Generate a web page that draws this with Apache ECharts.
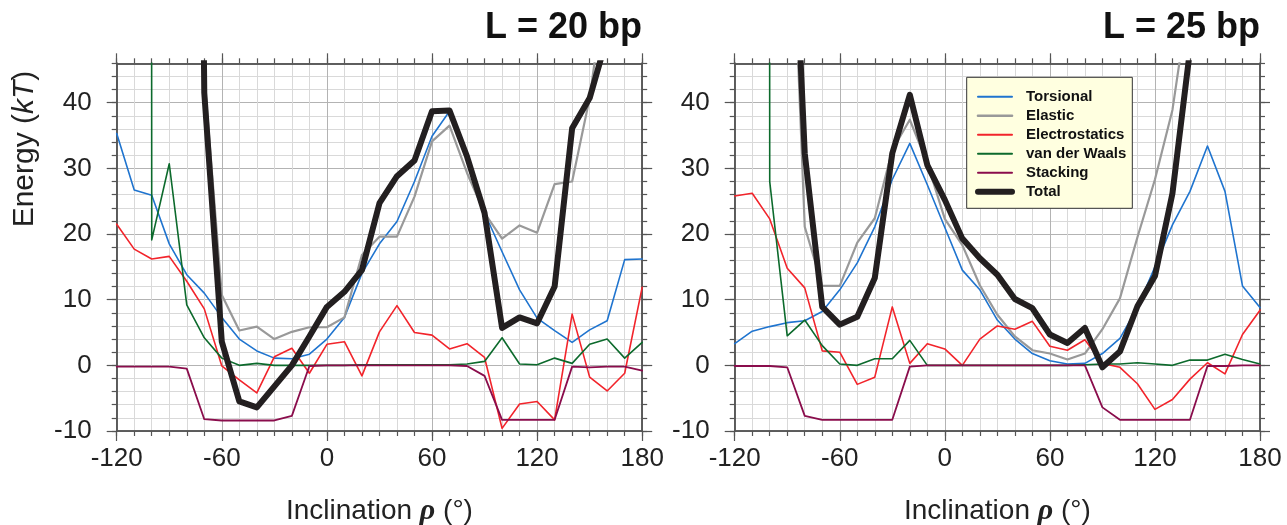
<!DOCTYPE html>
<html>
<head>
<meta charset="utf-8">
<script src="https://cdn.jsdelivr.net/npm/echarts@6/dist/echarts.min.js"></script>
<style>
html,body{margin:0;padding:0;background:#fff;}
#main{width:1287px;height:525px;}
</style>
</head>
<body>
<div id="main"></div>
<script>
// ---------------- DATA ----------------
const X_DEG = [-120,-110,-100,-90,-80,-70,-60,-50,-40,-30,-20,-10,0,10,20,30,40,50,60,70,80,90,100,110,120,130,140,150,160,170,180];
const X_MAJOR_TICKS = [-120,-60,0,60,120,180];
const Y_MAJOR_TICKS = [-10,0,10,20,30,40];
const SERIES_NAMES = ['Torsional','Elastic','Electrostatics','van der Waals','Stacking','Total'];
const PANEL_TITLES = ['L = 20 bp','L = 25 bp'];

// L = 20 bp
const torsional20 = [35.3,26.7,25.9,18.5,13.8,11.0,7.3,4.0,2.2,1.1,1.0,1.7,4.0,7.3,14.0,18.5,21.9,28.0,34.9,38.7,31.5,23.2,17.3,11.5,7.2,5.3,3.5,5.4,6.8,16.1,16.2];
const elastic20 = [null,null,null,null,300,44,10.7,5.3,5.9,4.0,5.1,5.8,5.8,7.3,16.8,19.6,19.6,25.7,34.1,36.5,29.3,23.2,19.3,21.3,20.2,27.6,28.0,40.7,60,80,100];
const electro20 = [21.5,17.7,16.2,16.6,12.8,8.6,-0.1,-2.2,-4.2,1.3,2.6,-1.2,3.2,3.6,-1.6,5.1,9.1,5.0,4.6,2.5,3.3,1.2,-9.6,-5.9,-5.5,-8.3,7.8,-1.8,-3.9,-1.2,11.9];
const vdw20 = [null,5000,19.1,30.7,9.2,4.2,1.1,0.0,0.3,0.0,0.0,0.0,0.0,0.0,0.1,0.1,0.1,0.1,0.1,0.1,0.2,0.6,4.2,0.2,0.1,1.1,0.3,3.2,4.0,1.1,3.5];
const stacking20 = [-0.2,-0.2,-0.2,-0.2,-0.5,-8.2,-8.4,-8.4,-8.4,-8.4,-7.7,-0.1,0,0,0,0,0,0,0,0,-0.1,-1.6,-8.3,-8.3,-8.3,-8.3,-0.2,-0.3,-0.2,-0.2,-0.8];
const total20 = [null,null,null,null,300,41.5,3.6,-5.5,-6.4,-3.2,0.0,4.4,8.9,11.2,14.5,24.7,28.8,31.2,38.7,38.8,31.8,23.2,5.7,7.3,6.4,12.0,36.1,40.7,50,70,90];

// L = 25 bp
const torsional25 = [3.3,5.2,5.9,6.5,6.8,8.2,11.5,15.6,21.1,28.3,33.8,27.5,21.0,14.5,11.5,6.9,4.0,1.8,0.7,0.2,0.3,1.8,4.1,8.8,15.0,21.4,26.5,33.4,26.5,12.1,8.8];
const elastic25 = [null,null,null,88,21.1,12.1,12.1,18.7,22.4,32.8,37.4,30.8,22.3,18.3,12.2,7.7,4.4,2.3,1.8,0.9,1.8,5.5,10.2,19.5,28.3,38.9,57,80,null,null,null];
const electro25 = [25.8,26.2,22.3,14.8,11.8,2.2,2.0,-2.9,-1.8,8.9,0.3,3.3,2.5,0.0,4.0,6.0,5.5,6.7,2.9,2.3,3.9,0.3,-0.3,-2.8,-6.7,-5.2,-2.1,0.4,-1.3,4.7,8.4];
const vdw25 = [null,5000,28.0,4.5,6.9,3.0,0.2,0.0,1.0,1.0,3.8,0.0,0,0,0,0,0,0,0,0,0.1,0.2,0.2,0.4,0.2,0.0,0.8,0.8,1.7,0.9,0.2];
const stacking25 = [-0.1,-0.1,-0.1,-0.3,-7.7,-8.3,-8.3,-8.3,-8.3,-8.3,-0.2,0,0,0,0,0,0,0,0,0,0,-6.4,-8.3,-8.3,-8.3,-8.3,-8.3,-0.1,-0.1,0,0];
const total25 = [null,null,null,92,32.3,8.9,6.2,7.4,13.3,32.3,41.2,30.5,25.2,19.3,16.3,13.8,10.1,8.7,4.7,3.4,5.7,-0.3,2.1,9.0,13.6,26.2,48,80,null,null,null];

// ---------------- STYLE ----------------
const FONT = "'Liberation Sans', Arial, Helvetica, sans-serif";
const COLORS = ['#1f74cf','#999999','#f2242b','#0c6a2c','#8a0d4c','#231f20'];
const WIDTHS = [1.6,2.2,1.6,1.6,1.8,6];
const LEGEND_WIDTHS = [2,2.6,2,2,2,6];
const AX = '#555';
const MINOR_GRID = '#d9d9d9';
const MAJOR_GRID = '#b3b3b3';
const GRIDS = [
  {left:116.7, top:63.3, width:525.5, height:367.7},
  {left:734.7, top:63.3, width:525.3, height:367.7}
];
const X_MIN = -120, X_MAX = 180, Y_MIN = -10, Y_MAX = 46;

const panels = [
  [torsional20, elastic20, electro20, vdw20, stacking20, total20],
  [torsional25, elastic25, electro25, vdw25, stacking25, total25]
];

const xAxes = [], yAxes = [], series = [];
GRIDS.forEach((g, gi) => {
  const lineS = {show:true, onZero:false, lineStyle:{color:AX, width:1.5}};
  xAxes.push({gridIndex:gi, type:'value', position:'bottom', min:X_MIN, max:X_MAX, interval:10,
    axisLine:lineS, axisTick:{show:true, length:5, lineStyle:{color:AX, width:1.2}},
    axisLabel:{show:false}, splitLine:{show:true, lineStyle:{color:MINOR_GRID, width:1}}});
  xAxes.push({gridIndex:gi, type:'value', position:'bottom', min:X_MIN, max:X_MAX, interval:60,
    axisLine:lineS, axisTick:{show:true, length:10, lineStyle:{color:AX, width:1.2}},
    axisLabel:{show:true, fontSize:26, color:'#222', fontFamily:FONT, margin:15},
    splitLine:{show:true, lineStyle:{color:MAJOR_GRID, width:1}},
    name:'{a|Inclination }{r|ρ}{a| (°)}', nameLocation:'middle', nameGap:65,
    nameTextStyle:{fontSize:28, color:'#222', fontFamily:FONT,
      rich:{a:{fontSize:28, color:'#222', fontFamily:FONT},
            r:{fontSize:30, color:'#222', fontStyle:'italic', fontWeight:'bold', fontFamily:"'Liberation Serif', serif"}}}});
  xAxes.push({gridIndex:gi, type:'value', position:'top', min:X_MIN, max:X_MAX, interval:10,
    axisLine:lineS, axisTick:{show:true, length:5, lineStyle:{color:AX, width:1.2}},
    axisLabel:{show:false}, splitLine:{show:false}});
  xAxes.push({gridIndex:gi, type:'value', position:'top', min:X_MIN, max:X_MAX, interval:60,
    axisLine:lineS, axisTick:{show:true, length:10, lineStyle:{color:AX, width:1.2}},
    axisLabel:{show:false}, splitLine:{show:false}});

  yAxes.push({gridIndex:gi, type:'value', position:'left', min:Y_MIN, max:Y_MAX, interval:2,
    axisLine:lineS, axisTick:{show:true, length:5, lineStyle:{color:AX, width:1.2}},
    axisLabel:{show:false}, splitLine:{show:true, lineStyle:{color:MINOR_GRID, width:1}}});
  yAxes.push({gridIndex:gi, type:'value', position:'left', min:Y_MIN, max:Y_MAX, interval:10,
    axisLine:lineS, axisTick:{show:true, length:10, customValues:Y_MAJOR_TICKS, lineStyle:{color:AX, width:1.2}},
    axisLabel:{show:true, customValues:Y_MAJOR_TICKS, fontSize:26, color:'#222', fontFamily:FONT, margin:25},
    splitLine:{show:true, lineStyle:{color:MAJOR_GRID, width:1}}});
  yAxes.push({gridIndex:gi, type:'value', position:'right', min:Y_MIN, max:Y_MAX, interval:2,
    axisLine:lineS, axisTick:{show:true, length:5, lineStyle:{color:AX, width:1.2}},
    axisLabel:{show:false}, splitLine:{show:false}});
  yAxes.push({gridIndex:gi, type:'value', position:'right', min:Y_MIN, max:Y_MAX, interval:10,
    axisLine:lineS, axisTick:{show:true, length:10, customValues:Y_MAJOR_TICKS, lineStyle:{color:AX, width:1.2}},
    axisLabel:{show:false}, splitLine:{show:false}});

  panels[gi].forEach((vals, si) => {
    series.push({
      name: SERIES_NAMES[si], type:'line',
      xAxisIndex: gi*4+1, yAxisIndex: gi*4+1,
      data: X_DEG.map((x, i) => [x, vals[i]]),
      symbol:'none', showSymbol:false, clip:true, silent:true,
      lineStyle:{color:COLORS[si], width:WIDTHS[si], cap:'round', join:'round'},
      itemStyle:{color:COLORS[si], opacity:0},
      z: 2 + si
    });
  });
});

const option = {
  animation:false,
  backgroundColor:'#ffffff',
  textStyle:{fontFamily:FONT},
  title: [
    {text:PANEL_TITLES[0], right:645, top:10, padding:0,
     textStyle:{fontSize:36, fontWeight:'bold', color:'#111', fontFamily:FONT}},
    {text:PANEL_TITLES[1], right:27, top:10, padding:0,
     textStyle:{fontSize:36, fontWeight:'bold', color:'#111', fontFamily:FONT}}
  ],
  legend: {
    orient:'vertical', left:966.7, top:77.3,
    padding:[12,6,9,8.3], itemWidth:34, itemHeight:14, itemGap:4,
    backgroundColor:'#ffffe0', borderColor:'#333', borderWidth:1, borderRadius:0,
    itemStyle:{opacity:0},
    textStyle:{fontSize:15, fontWeight:'bold', color:'#111', fontFamily:FONT, padding:[0,0,0,9]},
    data: SERIES_NAMES.map((n, i) => ({name:n, lineStyle:{width:LEGEND_WIDTHS[i], color:COLORS[i], cap:'round'}})),
    selectedMode:false
  },
  grid: GRIDS.map(g => Object.assign({containLabel:false, outerBoundsMode:'none'}, g)),
  xAxis: xAxes,
  yAxis: yAxes,
  series: series,
  graphic: [{
    type:'text', x:25, y:149, rotation:Math.PI/2,
    style:{
      text:'{a|Energy (}{b|kT}{a|)}',
      align:'center', verticalAlign:'middle',
      fontSize:30, fontFamily:FONT, fill:'#222',
      rich:{
        a:{fontSize:30, fontFamily:FONT, fill:'#222', color:'#222'},
        b:{fontSize:30, fontFamily:FONT, fontStyle:'italic', fill:'#222', color:'#222'}
      }
    }
  }]
};

const chart = echarts.init(document.getElementById('main'), null, {renderer:'canvas'});
chart.setOption(option);
</script>
</body>
</html>
